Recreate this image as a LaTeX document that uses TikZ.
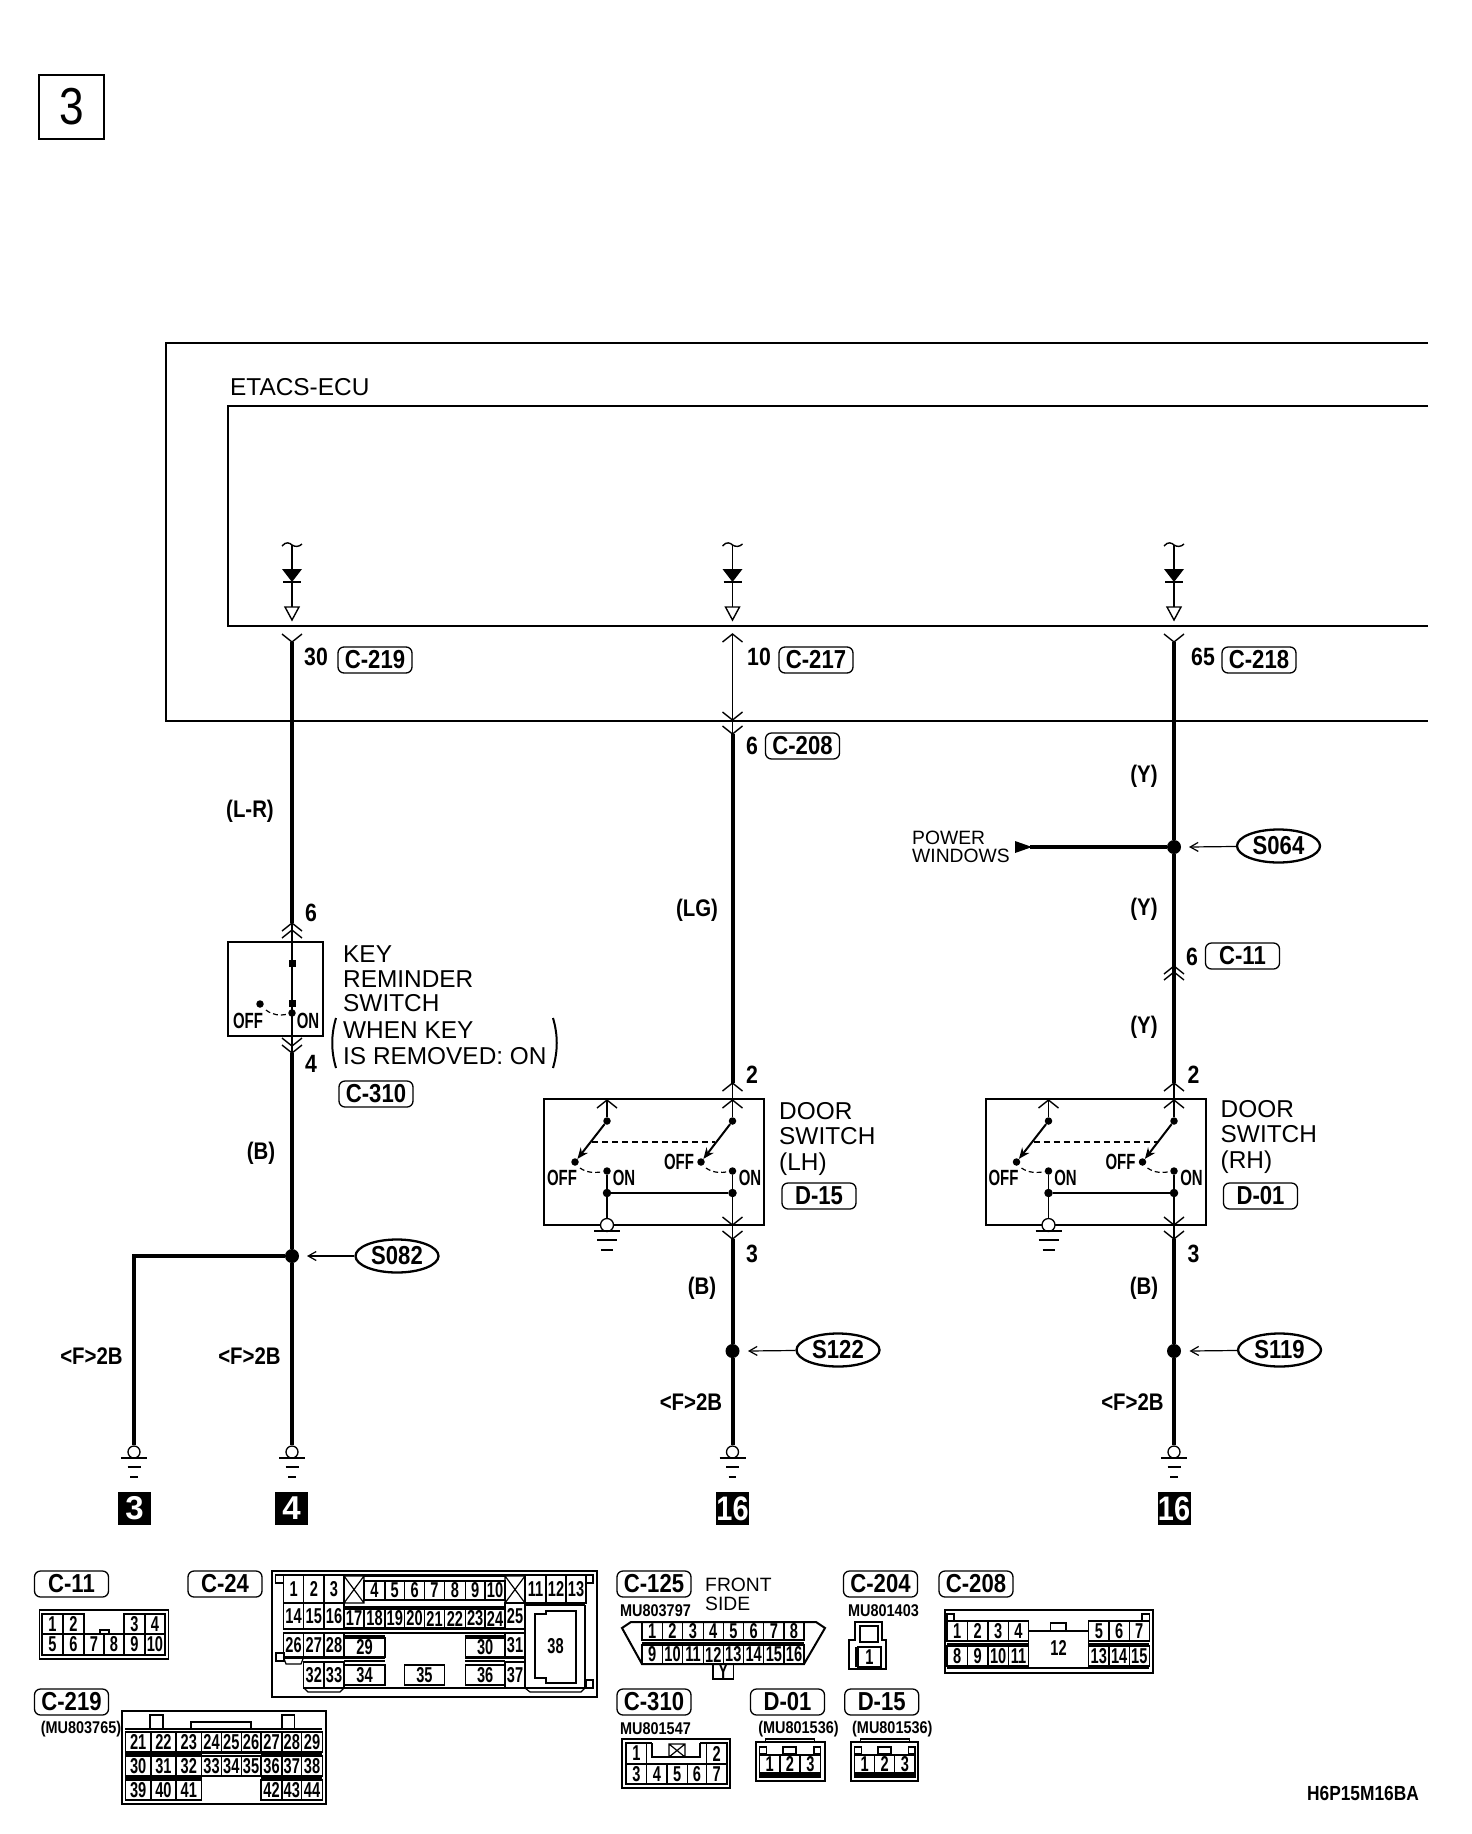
\documentclass[tikz,border=0pt]{standalone}
\usepackage{fontspec}
\usetikzlibrary{shapes.geometric,arrows.meta}
\setmainfont{Liberation Sans}
\newfontfamily\nbf[FakeStretch=.85]{Liberation Sans}
\newfontfamily\ncf[FakeStretch=.68]{Liberation Sans}
\newcounter{pn}
\tikzset{
 plaintxt/.style={font=\fontsize{24.4}{24.5}\selectfont,inner sep=0pt,align=left,anchor=west},
 doortxt/.style={font=\fontsize{24.4}{25.5}\selectfont,inner sep=0pt,align=left,anchor=west},
 smalltxt/.style={font=\fontsize{19.3}{18}\selectfont,inner sep=0pt,align=left,anchor=west},
 lbl/.style={font=\nbf\bfseries\fontsize{25}{25}\selectfont,inner sep=0pt},
 wlbl/.style={font=\nbf\bfseries\fontsize{24}{24}\selectfont,inner sep=0pt},
 swl/.style={font=\ncf\bfseries\fontsize{22}{22}\selectfont,inner sep=0pt},
 pinlbl/.style={font=\ncf\bfseries\fontsize{21.5}{21.5}\selectfont,inner sep=0pt},
 mu/.style={font=\nbf\bfseries\fontsize{17}{17}\selectfont,inner sep=0pt},
 tagbox/.style={draw,line width=1.3pt,rounded corners=6pt,minimum width=74pt,minimum height=26pt,inner sep=0pt,font=\nbf\bfseries\fontsize{26}{26}\selectfont},
 spl/.style={draw,ellipse,line width=2.3pt,minimum width=83pt,minimum height=33pt,inner sep=0pt,font=\nbf\bfseries\fontsize{26}{26}\selectfont},
 blk/.style={fill=black,text=white,minimum width=33pt,minimum height=33pt,inner sep=0pt,font=\bfseries\fontsize{33}{33}\selectfont},
 jdot/.style={circle,fill=black,minimum size=14pt,inner sep=0pt},
 sdot/.style={circle,fill=black,minimum size=7.5pt,inner sep=0pt},
 gndc/.style={circle,draw,fill=white,line width=1.3pt,minimum size=12pt,inner sep=0pt},
 wire/.style={line width=4pt},
 fine/.style={line width=1.4pt},
 mid/.style={line width=2pt},
 bx/.style={line width=2pt},
 pl/.style={line width=1.2pt},
 ptr/.style={line width=1.2pt,-{Straight Barb[length=8pt,width=9pt]}},
}
\newcommand\chup[2]{\draw[fine] ({#1-10},{#2+8})--(#1,#2)--({#1+10},{#2+8});}
\newcommand\chdn[2]{\draw[fine] ({#1-10},{#2-8})--(#1,#2)--({#1+10},{#2-8});}
\newcommand\gndsym[3]{%
 \draw[fine] ({#1-13},#2)--({#1+13},#2);
 \draw[fine] ({#1-#3},{#2+9})--({#1+#3},{#2+9});
 \draw[fine] ({#1-#3*.6},{#2+19})--({#1+#3*.6},{#2+19});}
\newcommand\diode[1]{%
 \draw[fine] ({#1-10},546) .. controls ({#1-6},541) and ({#1-2},543) .. (#1,545) .. controls ({#1+3},547) and ({#1+7},547) .. ({#1+10},544);
 \draw[fine] (#1,545)--(#1,607);
 \fill ({#1-10},569)--({#1+10},569)--(#1,582)--cycle;
 \draw[fine] ({#1-9},582)--({#1+9},582);
 \draw[fine] ({#1-7},607)--({#1+7},607)--(#1,620)--cycle;}
\newcommand\pinc[5]{%
 \draw[pl] (#1,#2) rectangle (#3,#4);
 \stepcounter{pn}\node[pinlbl] (pin\arabic{pn}) at ({(#1+#3)/2},{(#2+#4)/2}) {#5};}
\newcommand\pinrow[3]{\foreach \xa/\xb/\tx in {#3}{\pinc{\xa}{#1}{\xb}{#2}{\tx}}}
\newcommand\doorsw[5]{%
\begin{scope}[shift={(#2,0)}]
 \draw[bx] (544,1099) rectangle (764,1225);
 \coordinate (#1top) at (732.5,1083);
 \coordinate (#1bot) at (732.5,1239);
 \chup{732.5}{1083}\chup{732.5}{1100}\chup{607}{1100}
 \chdn{732.5}{1225}\chdn{732.5}{1239}
 \node[sdot] (#1a) at (607,1121) {};
 \node[sdot] (#1b) at (732.5,1121) {};
 \node[sdot] (#1c) at (575,1162) {};
 \node[sdot] (#1d) at (701,1162) {};
 \node[sdot] (#1e) at (607,1171) {};
 \node[sdot] (#1f) at (732.5,1171) {};
 \node[sdot,minimum size=8.5pt] (#1g) at (607,1193) {};
 \node[sdot,minimum size=8.5pt] (#1h) at (732.5,1193) {};
 \node[gndc,minimum size=13pt] (#1gnd) at (607,1225) {};
 \draw[fine] (607,1100)--(#1a);
 \draw[fine] (#1top)--(#1b);
 \draw[fine] (#1e)--(#1gnd);
 \draw[fine] (#1f)--(#1bot);
 \draw[mid] (#1g)--(#1h);
 \draw[mid,-{Stealth[length=11pt,width=9pt]}] (#1a)--(#1c);
 \draw[mid,-{Stealth[length=11pt,width=9pt]}] (#1b)--(#1d);
 \draw[mid,dash pattern=on 6pt off 4pt] (592,1142)--(715,1142);
 \draw[pl,dash pattern=on 5pt off 3pt] (580,1168) .. controls (587,1173) and (595,1173) .. (#1e);
 \draw[pl,dash pattern=on 5pt off 3pt] (706,1168) .. controls (713,1173) and (721,1173) .. (#1f);
 \draw[fine] (594,1231)--(620,1231);
 \draw[fine] (597,1240)--(617,1240);
 \draw[fine] (601,1250)--(613,1250);
 \node[swl] (#1o1) at (562,1178) {OFF};
 \node[swl] (#1n1) at (624,1178) {ON};
 \node[swl] (#1o2) at (679,1162) {OFF};
 \node[swl] (#1n2) at (750,1178) {ON};
 \node[lbl] (#1p2) at (752,1075) {2};
 \node[lbl] (#1p3) at (752,1254) {3};
 \node[doortxt] (#1txt) at (779,{1138.5+#3}) {DOOR\\SWITCH\\(#4)};
 \node[tagbox] (#1tag) at (819,1196) {#5};
\end{scope}}
\begin{document}
\begin{tikzpicture}[x=1pt,y=-1pt]
\useasboundingbox (0,0) rectangle (1472,1834);
% number box
\node[draw,line width=2.5pt,minimum width=65pt,minimum height=64pt,inner sep=0pt,font=\nbf\fontsize{52}{52}\selectfont] (num) at (71.5,107) {3};
% ECU
\draw[bx] (1428,343)--(166,343)--(166,721)--(1428,721);
\draw[line width=1.5pt] (1428,406)--(228,406)--(228,626)--(1428,626);
\node[plaintxt] (ecu) at (230,387) {ETACS-ECU};
\diode{292}\diode{732.5}\diode{1174}
\chdn{292}{642}
\chup{732.5}{634}\chdn{732.5}{720}\chdn{732.5}{734}
\chdn{1174}{642}
\node[lbl] (n30) at (316,657) {30};
\node[tagbox] (t219) at (375,660) {C-219};
\node[lbl] (n10) at (759,657) {10};
\node[tagbox] (t217) at (816,660) {C-217};
\node[lbl] (n65) at (1203,657) {65};
\node[tagbox] (t218) at (1259,660) {C-218};
\node[lbl] (n6b) at (752,746) {6};
\node[tagbox] (t208) at (802.5,746) {C-208};
\coordinate (a1) at (292,642);
\coordinate (a2) at (732.5,634);
\coordinate (a2b) at (732.5,720);
\coordinate (a2c) at (732.5,734);
\coordinate (a3) at (1174,642);
% key reminder switch
\draw[bx] (228,942) rectangle (323,1036);
\coordinate (k1) at (292,923);
\coordinate (k2) at (292,1053);
\chup{292}{923}\chup{292}{930}
\chdn{292}{1046}\chdn{292}{1053}
\draw[mid] (k1)--(k2);
\fill (288.5,959.5) rectangle (295.5,966.5);
\fill (288.5,1000) rectangle (295.5,1007);
\node[sdot] (kd) at (292,1013) {};
\node[sdot] (koff) at (260,1004) {};
\draw[pl,dash pattern=on 5pt off 3pt] (266,1010) .. controls (272,1015) and (280,1016) .. (kd);
\node[swl] (koft) at (248,1021) {OFF};
\node[swl] (kont) at (308,1021) {ON};
\node[lbl] (k6) at (311,913) {6};
\node[lbl] (k4) at (311,1064) {4};
\node[plaintxt] (ktx) at (343,979) {KEY\\REMINDER\\SWITCH};
\node[plaintxt,font=\fontsize{24.4}{26}\selectfont] (ktx2) at (343,1043) {WHEN KEY\\IS REMOVED: ON};
\draw[mid] (336,1018) .. controls (331,1035) and (331,1051) .. (336,1068);
\draw[mid] (553,1018) .. controls (558,1035) and (558,1051) .. (553,1068);
\node[tagbox] (t310) at (376,1094) {C-310};
% junctions and grounds
\node[jdot] (J82) at (292,1256) {};
\node[jdot] (J122) at (732.5,1351) {};
\node[jdot] (J119) at (1174,1351) {};
\node[jdot] (J64) at (1174,847) {};
\node[gndc] (G3) at (134,1452) {};
\node[gndc] (G4) at (292,1452) {};
\node[gndc] (G16a) at (732.5,1452) {};
\node[gndc] (G16b) at (1174,1452) {};
\gndsym{134}{1458}{6.5}\gndsym{292}{1458}{6.5}\gndsym{732.5}{1458}{6.5}\gndsym{1174}{1458}{6.5}
\node[blk] (b3) at (134.5,1508.5) {3};
\node[blk] (b4) at (291.5,1508.5) {4};
\node[blk,font=\nbf\bfseries\fontsize{34}{34}\selectfont] (b16a) at (732.5,1508.5) {16};
\node[blk,font=\nbf\bfseries\fontsize{34}{34}\selectfont] (b16b) at (1174,1508.5) {16};
% door switches
\doorsw{L}{0}{0}{LH}{D-15}
\doorsw{R}{441.5}{-2}{RH}{D-01}
% thick wires
\draw[wire] (a1)--(k1);
\draw[wire] (k2)--(J82);
\draw[wire] (J82)--(G4);
\draw[wire,line join=miter] (J82)-|(G3);
\draw[fine] (a2)--(a2b)--(a2c);
\draw[wire] (a2c)--(Ltop);
\draw[wire] (a3)--(J64);
\chup{1174}{966}\chup{1174}{972}
\draw[wire] (J64)--(Rtop);
\draw[wire] (Lbot)--(J122);
\draw[wire] (J122)--(G16a);
\draw[wire] (Rbot)--(J119);
\draw[wire] (J119)--(G16b);
% power windows branch
\coordinate (pw) at (1030,847);
\draw[wire] (J64)--(pw);
\fill (1015,841)--(1032,847)--(1015,853)--cycle;
\node[smalltxt] (pwt) at (912,847) {POWER\\WINDOWS};
% splices
\node[spl] (S64) at (1278.5,846) {S064};
\node[spl] (S82) at (397,1256) {S082};
\node[spl] (S122) at (838,1350) {S122};
\node[spl] (S119) at (1279.5,1350) {S119};
\coordinate (p64) at (1189,847);
\coordinate (p82) at (307,1256);
\coordinate (p122) at (748,1351);
\coordinate (p119) at (1189.5,1351);
\draw[ptr] (S64)--(p64);
\draw[ptr] (S82)--(p82);
\draw[ptr] (S122)--(p122);
\draw[ptr] (S119)--(p119);
% wire labels
\node[wlbl] (cLR) at (250,811) {(L-R)};
\node[wlbl] (cLG) at (697,910) {(LG)};
\node[wlbl] (cB1) at (261,1153) {(B)};
\node[wlbl] (cB2) at (702,1288) {(B)};
\node[wlbl] (cB3) at (1144,1288) {(B)};
\node[wlbl] (cY1) at (1144,776) {(Y)};
\node[wlbl] (cY2) at (1144,909) {(Y)};
\node[wlbl] (cY3) at (1144,1027) {(Y)};
\node[lbl] (n6c) at (1192,957) {6};
\node[tagbox] (t11) at (1242.5,956) {C-11};
\node[wlbl] (f1) at (91.5,1356) {<F>2B};
\node[wlbl] (f2) at (249.5,1356) {<F>2B};
\node[wlbl] (f3) at (691,1402) {<F>2B};
\node[wlbl] (f4) at (1132.5,1402) {<F>2B};
% ===== connector views =====
% C-11
\node[tagbox] (v11) at (71.5,1584) {C-11};
\draw[line width=1.3pt] (39.5,1610) rectangle (168.5,1659);
\draw[mid] (42,1655)--(165,1655);
\draw[mid] (42,1614)--(84,1614) (124,1614)--(165,1614);
\pinrow{1614}{1634}{42/63/1,63/84/2,124/145/3,145/165/4}
\pinrow{1634}{1655}{42/63/5,63/84/6,84/104/7,104/124/8,124/145/9,145/165/10}
\draw[pl,fill=white] (100,1634) rectangle (109,1630);
% C-24
\node[tagbox] (v24) at (225,1584) {C-24};
\draw[mid] (271.6,1570.7) rectangle (597,1696.7);
\draw[mid] (275.6,1575)--(593,1575);
\draw[pl] (275.6,1575) rectangle (283.5,1583);
\draw[pl] (586,1575) rectangle (593,1583);
\draw[mid] (275.6,1653) rectangle (283.5,1661);
\draw[pl] (586,1680) rectangle (593,1688);
\draw[pl] (283.5,1657)--(286,1664)--(301,1664)--(303.7,1657);
\draw[mid] (303.7,1688)--(585,1688);
\draw[pl] (304,1688)--(308,1692)--(340,1692)--(344,1688);
\draw[pl] (525,1688)--(530,1692)--(581,1692)--(585,1688);
\pinrow{1575.7}{1603}{283.5/303.7/1,303.7/324/2,324/344/3,525/546/11,546/566/12,566/586/13}
\pinrow{1581}{1600}{364/385/4,385/404.5/5,404.5/424.7/6,424.7/444.4/7,444.4/465.4/8,465.4/485/9,485/505/10}
\draw[pl] (344,1576) rectangle (364,1603) (344,1576)--(364,1603) (364,1576)--(344,1603);
\draw[pl] (505,1576) rectangle (525,1603) (505,1576)--(525,1603) (525,1576)--(505,1603);
\draw[mid] (364,1576)--(505,1576);
\pinrow{1603}{1629}{283.5/303.7/14,303.7/324/15,324/344/16,505/525/25}
\draw[mid] (344,1607)--(505,1607);
\pinrow{1609}{1628}{344/364/17,364/385/18,385/404.5/19,404.5/424.7/20,424.7/444.4/21,444.4/465.4/22,465.4/485/23,485/505/24}
\pinrow{1633}{1657}{283.5/303.7/26,303.7/324/27,324/344/28,505/525/31}
\draw[pl] (344,1633)--(505,1633) (344,1629)--(505,1629);
\pinrow{1638}{1657}{344/385/29,465.4/505/30}
\draw[pl] (344,1636)--(385,1636) (465.4,1636)--(505,1636);
\draw[pl] (283.5,1658)--(385,1658) (465.4,1658)--(525,1658) (344,1661)--(385,1661) (465.4,1661)--(505,1661);
\pinrow{1662}{1688}{303.7/324/32,324/344/33,505/525/37}
\pinrow{1665}{1685}{344/385/34,404.5/444.4/35,465.4/505/36}
\draw[pl] (525,1605)--(525,1688) (585,1605)--(585,1688) (525,1605)--(585,1605);
\draw[pl] (535,1614)--(546,1614)--(546,1611)--(576,1611)--(576,1683)--(546,1683)--(546,1678)--(535,1678)--cycle;
\node[pinlbl] (p38) at (555.5,1646) {38};
% C-219
\node[tagbox] (v219) at (71.5,1702) {C-219};
\node[mu] (m219) at (81,1729) {(MU803765)};
\draw[mid] (122,1711) rectangle (326,1804);
\draw[pl] (150,1715) rectangle (163,1729);
\draw[pl] (282,1715) rectangle (294.6,1729);
\draw[pl] (191,1722) rectangle (251,1729);
\draw[mid] (125,1729)--(322,1729);
\pinrow{1732}{1752}{125.3/151/21,151/176/22,176/201.7/23,201.7/221.4/24,221.4/241.2/25,241.2/261/26,261/282/27,282/301.7/28,301.7/322.3/29}
\pinrow{1756}{1776}{125.3/151/30,151/176/31,176/201.7/32,201.7/221.4/33,221.4/241.2/34,241.2/261/35,261/282/36,282/301.7/37,301.7/322.3/38}
\pinrow{1780}{1800}{125.3/151/39,151/176/40,176/201.7/41,261/282/42,282/301.7/43,301.7/322.3/44}
\draw[line width=1.5pt] (125.3,1754)--(201.7,1754) (261,1754)--(322.3,1754) (201.7,1753)--(261,1753);
\draw[line width=1.5pt] (125.3,1778)--(201.7,1778) (261,1778)--(322.3,1778);
% C-125
\node[tagbox] (v125) at (654,1584) {C-125};
\node[smalltxt,font=\fontsize{19.3}{19}\selectfont] (fs) at (705,1594.5) {FRONT\\SIDE};
\node[mu] (m125) at (655.5,1611) {MU803797};
\draw[mid] (631,1622)--(816,1622)--(825,1628)--(804,1664)--(642,1664)--(622,1628)--cycle;
\pinrow{1622}{1640}{642/662.4/1,662.4/682.7/2,682.7/703.3/3,703.3/723.2/4,723.2/743.5/5,743.5/763.8/6,763.8/784/7,784/804/8}
\pinrow{1645}{1664}{642/662.4/9,662.4/682.7/10,682.7/703.3/11,703.3/723.2/12,723.2/743.5/13,743.5/763.8/14,763.8/784/15,784/804/16}
\draw[mid] (642,1642.5)--(804,1642.5);
\pinc{713}{1664}{733.6}{1679}{Y}
% C-204
\node[tagbox] (v204) at (880.5,1584) {C-204};
\node[mu] (m204) at (883.5,1611) {MU801403};
\draw[mid] (854.5,1640)--(854.5,1622)--(882.4,1622)--(882.4,1640)--(886,1640)--(886,1669)--(849,1669)--(849,1640)--cycle;
\draw[mid] (860,1626) rectangle (877.5,1642);
\fill (854.5,1647) rectangle (858.3,1667);
\pinc{858}{1647}{881}{1667}{1}
% C-208
\node[tagbox] (v208) at (976,1584) {C-208};
\draw[mid] (945,1610) rectangle (1153,1673);
\draw[pl] (947,1614) rectangle (954,1621);
\draw[pl] (1142,1614) rectangle (1149.2,1621);
\pinrow{1621}{1641}{947/967.4/1,967.4/988/2,988/1008.4/3,1008.4/1028.6/4,1088.7/1109/5,1109/1129.3/6,1129.3/1149.2/7}
\pinrow{1646}{1666}{947/967.4/8,967.4/988/9,988/1008.4/10,1008.4/1028.6/11,1088.7/1109/13,1109/1129.3/14,1129.3/1149.2/15}
\draw[mid] (947,1621)--(1028.6,1621) (1088.7,1621)--(1149.2,1621);
\draw[mid] (947,1643.5)--(1028.6,1643.5) (1088.7,1643.5)--(1149.2,1643.5);
\draw[mid] (947,1668)--(1149.2,1668);
\draw[pl] (1028.6,1631)--(1088.7,1631) (1028.6,1631)--(1028.6,1668) (1088.7,1631)--(1088.7,1668);
\draw[pl] (1050.8,1631) rectangle (1066,1623);
\node[pinlbl] (p12) at (1058.5,1648) {12};
% C-310
\node[tagbox] (v310) at (654,1702) {C-310};
\node[mu] (m310) at (655.5,1729) {MU801547};
\draw[mid] (622,1739) rectangle (730,1788);
\draw[mid] (626,1743)--(652.4,1743) (700.3,1743)--(727,1743) (626,1784)--(727,1784);
\pinc{626}{1743}{646.7}{1764}{1}
\pinc{706.4}{1743}{727}{1764}{2}
\pinrow{1764}{1784}{626/646.7/3,646.7/667/4,667/687.3/5,687.3/706.4/6,706.4/727/7}
\draw[mid] (652.4,1743)--(652.4,1757)--(700.3,1757)--(700.3,1743);
\draw[pl] (669,1744) rectangle (685,1757) (669,1744)--(685,1757) (685,1744)--(669,1757);
% D-01
\node[tagbox] (v01) at (787.5,1702) {D-01};
\node[mu] (m01) at (798.5,1729) {(MU801536)};
\draw[mid] (755.8,1742) rectangle (824.6,1781);
\draw[pl] (765.7,1742)--(765.7,1739)--(814.3,1739)--(814.3,1742);
\draw[pl] (783,1747) rectangle (796,1754);
\draw[pl] (759.6,1747) rectangle (766.5,1754);
\draw[pl] (814,1747) rectangle (820.8,1754);
\draw[mid] (759.6,1775)--(820.8,1775);
\pinrow{1755}{1773}{759.6/780/1,780/800/2,800/820.8/3}
\draw[pl] (759.6,1773)--(759.6,1777)--(820.8,1777)--(820.8,1773);
% D-15
\node[tagbox] (v15) at (881.7,1702) {D-15};
\node[mu] (m15) at (892.3,1729) {(MU801536)};
\draw[mid] (850.7,1742) rectangle (918.4,1781);
\draw[pl] (860.6,1742)--(860.6,1739)--(909.2,1739)--(909.2,1742);
\draw[pl] (877.9,1747) rectangle (890.9,1754);
\draw[pl] (854.5,1747) rectangle (861.4,1754);
\draw[pl] (908.1,1747) rectangle (915,1754);
\draw[mid] (854.5,1775)--(915,1775);
\pinrow{1755}{1773}{854.5/874.8/1,874.8/894.7/2,894.7/915/3}
\draw[pl] (854.5,1773)--(854.5,1777)--(915,1777)--(915,1773);
% code
\node[mu,font=\nbf\bfseries\fontsize{20.4}{20}\selectfont] (code) at (1363,1793) {H6P15M16BA};
\end{tikzpicture}
\end{document}
